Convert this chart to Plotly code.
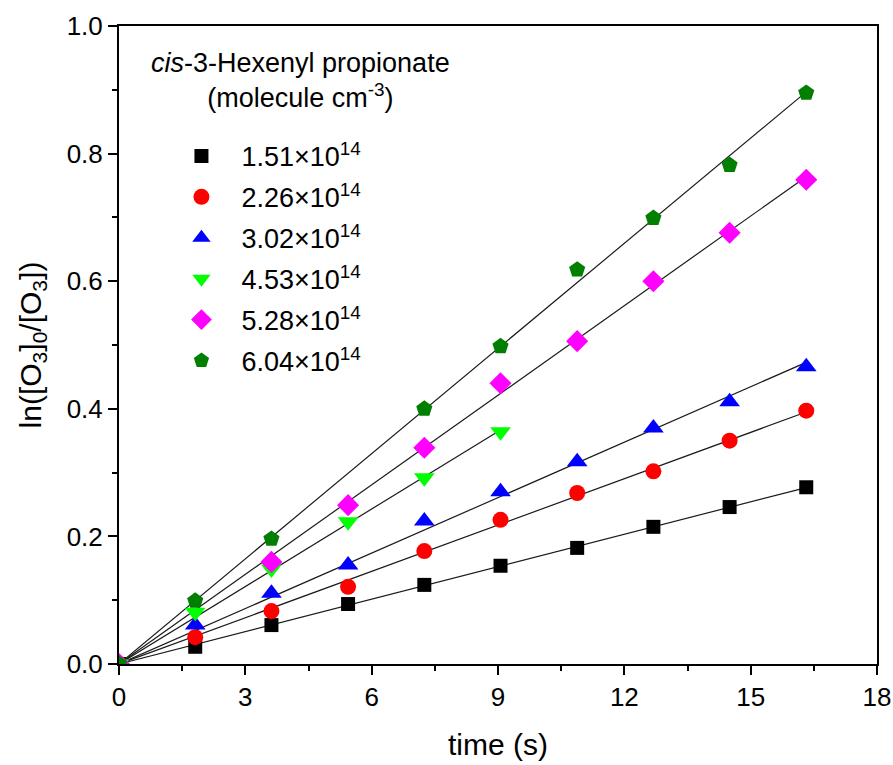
import numpy as np
import plotly.graph_objects as go

time_s = [0, 1.81, 3.62, 5.44, 7.25, 9.06, 10.88, 12.69, 14.5, 16.32]

labels = ["1.51×10<sup>14</sup>", "2.26×10<sup>14</sup>", "3.02×10<sup>14</sup>",
          "4.53×10<sup>14</sup>", "5.28×10<sup>14</sup>", "6.04×10<sup>14</sup>"]

t_151 = time_s
y_151 = [0, 0.027, 0.061, 0.094, 0.124, 0.154, 0.182, 0.215, 0.246, 0.277]
t_226 = time_s
y_226 = [0, 0.042, 0.083, 0.121, 0.177, 0.226, 0.268, 0.302, 0.350, 0.397]
t_302 = time_s
y_302 = [0, 0.061, 0.111, 0.155, 0.224, 0.270, 0.317, 0.370, 0.411, 0.466]
t_453 = [0, 1.81, 3.62, 5.44, 7.25, 9.06]
y_453 = [0, 0.081, 0.149, 0.223, 0.292, 0.364]
t_528 = [0, 3.62, 5.44, 7.25, 9.06, 10.88, 12.69, 14.5, 16.32]
y_528 = [0, 0.160, 0.249, 0.339, 0.440, 0.506, 0.600, 0.676, 0.759]
t_604 = [0, 1.81, 3.62, 7.25, 9.06, 10.88, 12.69, 14.5, 16.32]
y_604 = [0, 0.099, 0.196, 0.400, 0.498, 0.618, 0.699, 0.782, 0.895]

series_t = [t_151, t_226, t_302, t_453, t_528, t_604]
series_y = [y_151, y_226, y_302, y_453, y_528, y_604]
colors = ["#000000", "#ff0000", "#0000ff", "#00ff00", "#ff00ff", "#007f00"]
symbols = ["square", "circle", "triangle-up", "triangle-down", "diamond", "pentagon"]
sizes = [14, 16, 18, 18, 17, 17]

fig = go.Figure()

# fitted lines through origin
for t, y in zip(series_t, series_y):
    t = np.array(t, float); y = np.array(y, float)
    k = (t * y).sum() / (t * t).sum()
    xs = np.array([0.0, t.max()])
    fig.add_trace(go.Scatter(x=xs, y=k * xs, mode="lines",
                             line=dict(color="#1a1a1a", width=1.2),
                             showlegend=False, hoverinfo="skip"))

for i, (t, y) in enumerate(zip(series_t, series_y)):
    fig.add_trace(go.Scatter(x=t, y=y, mode="markers", name=labels[i],
                             legendgroup=f"g{i}",
                             marker=dict(symbol=symbols[i], size=sizes[i],
                                         color=colors[i], line=dict(width=0))))

font = "Arial, Liberation Sans, sans-serif"
axis_common = dict(showline=True, linecolor="black", linewidth=2, mirror=True,
                   ticks="outside", ticklen=9, tickwidth=2, tickcolor="black",
                   showgrid=False, zeroline=False, automargin=False,
                   tickfont=dict(family=font, size=26, color="black"))

fig.update_xaxes(range=[0, 18], tick0=0, dtick=3,
                 minor=dict(ticks="outside", ticklen=5, tickwidth=2, tickcolor="black", dtick=1.5),
                 title=dict(text="time (s)", font=dict(family=font, size=30, color="black"), standoff=23),
                 **axis_common)
fig.update_yaxes(range=[0, 1.0], tick0=0, dtick=0.2, tickformat=".1f",
                 minor=dict(ticks="outside", ticklen=5, tickwidth=2, tickcolor="black", dtick=0.1),
                 title=dict(text="ln([O<sub>3</sub>]<sub>0</sub>/[O<sub>3</sub>])",
                            font=dict(family=font, size=30, color="black"), standoff=16),
                 **axis_common)

fig.add_annotation(xref="paper", yref="paper", x=0.240, y=0.914,
                   text="<i>cis</i>-3-Hexenyl propionate<br>(molecule cm<sup>-3</sup>)",
                   showarrow=False, align="center", xanchor="center", yanchor="middle",
                   font=dict(family=font, size=27, color="black"))

fig.update_layout(
    width=893, height=765,
    margin=dict(l=119, r=16, t=26, b=101),
    paper_bgcolor="white", plot_bgcolor="white",
    showlegend=True,
    legend=dict(x=0.056, y=0.834, xanchor="left", yanchor="top",
                bgcolor="rgba(0,0,0,0)", tracegroupgap=2.8, itemwidth=70,
                font=dict(family=font, size=27, color="black")),
)

fig.write_html("out.html", config={"displayModeBar": False},
               post_script="document.body.style.margin='0';")
